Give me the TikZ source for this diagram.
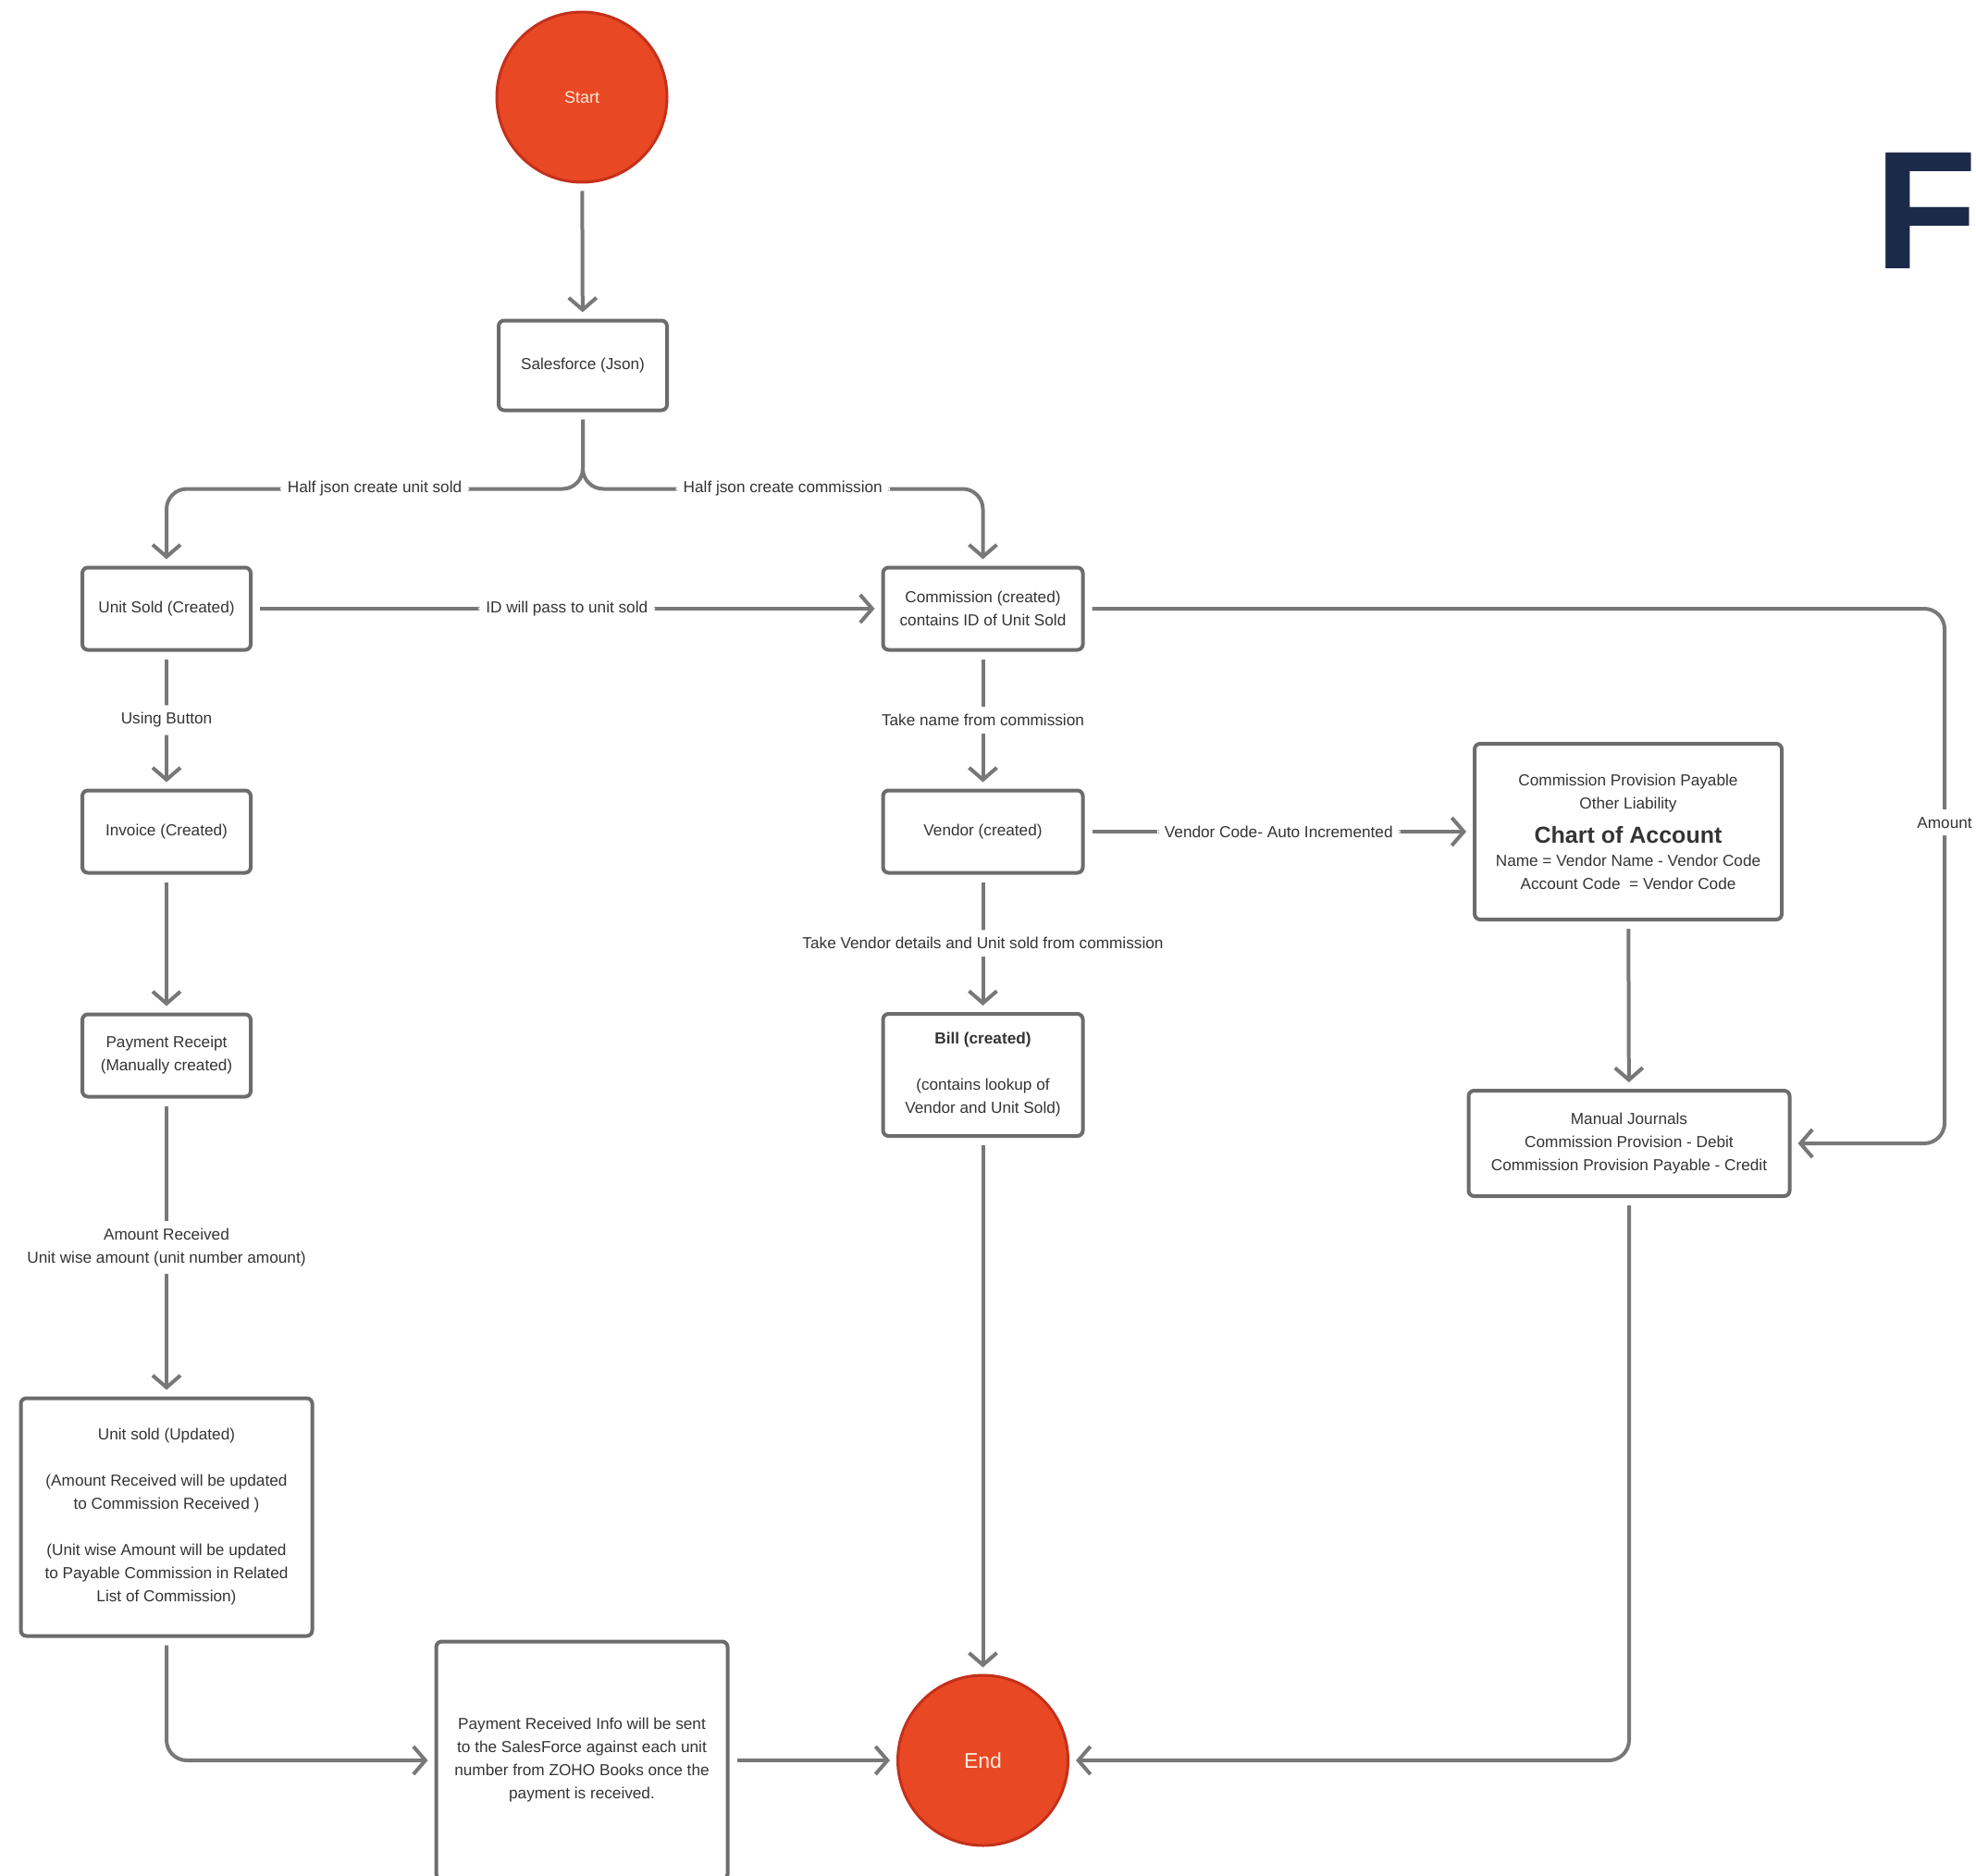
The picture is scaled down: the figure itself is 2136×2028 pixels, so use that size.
\documentclass[tikz,border=0pt]{standalone}
\usepackage{fontspec}
\setmainfont{Liberation Sans}
\usetikzlibrary{arrows.meta,positioning}

\definecolor{termred}{RGB}{233,72,36}
\definecolor{termedge}{RGB}{196,48,26}
\definecolor{termtxt}{RGB}{255,236,222}
\definecolor{linegray}{RGB}{120,120,120}
\definecolor{boxgray}{RGB}{108,108,108}
\definecolor{txtgray}{RGB}{52,52,52}
\definecolor{logonavy}{RGB}{28,42,74}

\newcommand{\flowtxt}{\fontsize{17.2}{25}\selectfont}

\tikzset{
  box/.style={draw=boxgray, line width=4pt, rounded corners=6pt, fill=white,
    align=center, font=\flowtxt, text=txtgray, inner sep=0pt},
  term/.style={circle, draw=termedge, line width=3pt, fill=termred,
    minimum size=184pt, inner sep=0pt, text=termtxt},
  conn/.style={draw=linegray, line width=4pt, rounded corners=22pt,
    -{Straight Barb[length=13pt,width=30pt]}, shorten <=8pt, shorten >=7pt},
  lbl/.style={fill=white, font=\flowtxt, text=txtgray, inner sep=8pt, align=center}
}

\begin{document}
\begin{tikzpicture}[x=1pt,y=-1pt]
\useasboundingbox (0,0) rectangle (2136,2028);

% Nodes
\node[term, font=\fontsize{18}{18}\selectfont] (start) at (629,105) {Start};
\node[box, minimum width=182pt, minimum height=97pt] (sf) at (630,395) {Salesforce (Json)};
\coordinate (split) at (630,528.5);

\node[box, minimum width=182pt, minimum height=89pt] (us) at (180,658) {Unit Sold (Created)};
\node[box, minimum width=216pt, minimum height=89pt] (comm) at (1062.5,658) {Commission (created)\\contains ID of Unit Sold};

\node[box, minimum width=182pt, minimum height=89pt] (inv) at (180,899) {Invoice (Created)};
\node[box, minimum width=216pt, minimum height=89pt] (vend) at (1062.5,899) {Vendor (created)};
\node[box, minimum width=332pt, minimum height=190pt] (coa) at (1760,899)
  {Commission Provision Payable\\Other Liability\\[12pt]
   {\fontsize{25}{30}\selectfont\bfseries Chart of Account}\\
   Name = Vendor Name - Vendor Code\\Account Code\ \ = Vendor Code};

\node[box, minimum width=182pt, minimum height=89pt] (pr) at (180,1141) {Payment Receipt\\(Manually created)};
\node[box, minimum width=216pt, minimum height=132pt] (bill) at (1062.5,1162)
  {\textbf{Bill (created)}\\[25pt](contains lookup of\\Vendor and Unit Sold)};
\node[box, minimum width=347pt, minimum height=114pt] (mj) at (1761,1236)
  {Manual Journals\\Commission Provision - Debit\\Commission Provision Payable - Credit};

\node[box, minimum width=315pt, minimum height=257pt] (usu) at (180,1640)
  {Unit sold (Updated)\\[25pt](Amount Received will be updated\\to Commission Received )\\[25pt]
   (Unit wise Amount will be updated\\to Payable Commission in Related\\List of Commission)};
\node[box, minimum width=315pt, minimum height=257pt] (pri) at (629,1903)
  {Payment Received Info will be sent\\to the SalesForce against each unit\\number from ZOHO Books once the\\payment is received.};
\node[term, font=\fontsize{23}{23}\selectfont] (end) at (1062.5,1903) {End};

\coordinate (amtx) at (2102,0);
\node[anchor=base west, inner sep=0pt, text=logonavy,
  font=\fontsize{182}{182}\selectfont\bfseries] (logo) at (2026,290) {F};

% Edges
\draw[conn] (start) -- (sf);
\draw[conn] (sf.south) -- (split) -| node[lbl, pos=0.25] {Half json create unit sold} (us.north);
\draw[conn] (sf.south) -- (split) -| node[lbl, pos=0.25] {Half json create commission} (comm.north);
\draw[conn] (us) -- node[lbl] {ID will pass to unit sold} (comm);
\draw[conn] (us) -- node[lbl] {Using Button} (inv);
\draw[conn] (comm) -- node[lbl] {Take name from commission} (vend);
\draw[conn] (vend) -- node[lbl] {Vendor Code- Auto Incremented} (coa);
\draw[conn] (inv) -- (pr);
\draw[conn] (vend) -- node[lbl] {Take Vendor details and Unit sold from commission} (bill);
\draw[conn] (coa) -- (mj);
\draw[conn] (comm.east) -- (comm.east -| amtx) -- node[lbl, pos=0.4] {Amount} (mj.east -| amtx) -- (mj.east);
\draw[conn] (pr) -- node[lbl] {Amount Received\\Unit wise amount (unit number amount)} (usu);
\draw[conn] (bill) -- (end);
\draw[conn] (mj.south) |- (end.east);
\draw[conn] (usu.south) |- (pri.west);
\draw[conn] (pri) -- (end);
\end{tikzpicture}
\end{document}
